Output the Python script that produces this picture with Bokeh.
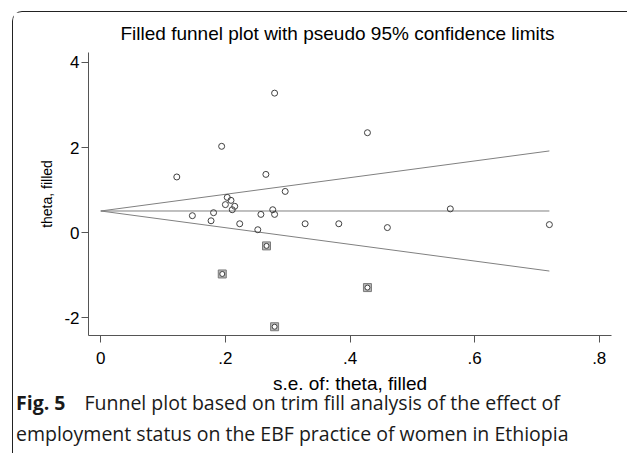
from bokeh.plotting import figure
from bokeh.models import FixedTicker, Div
from bokeh.layouts import column
from bokeh.embed import file_html
from bokeh.resources import INLINE

# ---- data ----
obs_se = [0.279, 0.194, 0.122, 0.265, 0.296, 0.203, 0.209, 0.200, 0.215, 0.211,
          0.276, 0.181, 0.147, 0.257, 0.279, 0.177, 0.223, 0.328, 0.382, 0.252,
          0.428, 0.561, 0.460, 0.720]
obs_theta = [3.28, 2.03, 1.31, 1.37, 0.97, 0.83, 0.76, 0.66, 0.62, 0.54,
             0.54, 0.47, 0.40, 0.43, 0.43, 0.28, 0.21, 0.21, 0.21, 0.07,
             2.35, 0.56, 0.12, 0.19]
fill_se = [0.266, 0.195, 0.279, 0.428]
fill_theta = [-0.31, -0.97, -2.21, -1.29]
pooled = 0.51
se_limits = [0.0, 0.72]
x_ticks = [0, 0.2, 0.4, 0.6, 0.8]
x_tick_labels = ["0", ".2", ".4", ".6", ".8"]
y_ticks = [-2, 0, 2, 4]
y_tick_labels = ["-2", "0", "2", "4"]

title_text = "Filled funnel plot with pseudo 95% confidence limits"
x_label = "s.e. of: theta, filled"
y_label = "theta, filled"
caption_bold = "Fig.&nbsp;5"
caption_line1 = "Funnel plot based on trim fill analysis of the effect of"
caption_line2 = "employment status on the EBF practice of women in Ethiopia"

W, H = 614, 390
x0, x1 = -0.0197, 0.8197
y0, y1 = -2.416, 4.235

p = figure(width=W, height=H, output_backend="svg", toolbar_location=None,
           x_range=(x0, x1), y_range=(y0, y1),
           min_border_left=75, min_border_right=16, min_border_top=40, min_border_bottom=67)
p.outline_line_color = None
p.xgrid.visible = False
p.ygrid.visible = False
p.background_fill_color = "white"
p.border_fill_color = "white"

p.title.text = title_text
p.title.text_font = "Liberation Sans"
p.title.text_font_size = "19px"
p.title.text_font_style = "normal"
p.title.text_color = "black"
p.title.align = "left"
p.title.offset = 32
p.title.standoff = 17

AX = "#555555"
for ax in (p.xaxis[0], p.yaxis[0]):
    ax.axis_line_color = AX
    ax.major_tick_line_color = AX
    ax.minor_tick_line_color = None
    ax.major_tick_in = 0
    ax.major_tick_out = 7
    ax.major_label_text_font = "Liberation Sans"
    ax.major_label_text_font_size = "17px"
    ax.major_label_text_color = "black"
    ax.axis_label_text_font = "Liberation Sans"
    ax.axis_label_text_font_style = "normal"
    ax.axis_label_text_color = "black"

p.xaxis[0].ticker = FixedTicker(ticks=x_ticks)
p.xaxis[0].major_label_overrides = {t: l for t, l in zip(x_ticks, x_tick_labels)}
p.xaxis[0].axis_label = x_label
p.xaxis[0].axis_label_text_font_size = "19px"
p.xaxis[0].major_label_standoff = 9
p.xaxis[0].axis_label_standoff = 6

p.yaxis[0].ticker = FixedTicker(ticks=y_ticks)
p.yaxis[0].major_label_overrides = {t: l for t, l in zip(y_ticks, y_tick_labels)}
p.yaxis[0].axis_label = y_label
p.yaxis[0].axis_label_text_font_size = "14px"
p.yaxis[0].major_label_standoff = 2
p.yaxis[0].axis_label_standoff = 6

# funnel: pooled estimate and pseudo 95% limits
LC = "#808080"
p.line(se_limits, [pooled, pooled], line_color=LC, line_width=1)
p.line(se_limits, [pooled, pooled + 1.96 * se_limits[1]], line_color=LC, line_width=1)
p.line(se_limits, [pooled, pooled - 1.96 * se_limits[1]], line_color=LC, line_width=1)

# observed and filled studies
p.scatter(obs_se, obs_theta, marker="circle", size=6, fill_color=None,
          line_color="#404040", line_width=1)
p.scatter(fill_se, fill_theta, marker="square", size=8, fill_color="#b8b8b8",
          line_color="#7a7a7a", line_width=1)
p.scatter(fill_se, fill_theta, marker="circle", size=5, fill_color="white",
          line_color="#404040", line_width=1)

caption = Div(
    text=('<div style="font-family:\'Open Sans\'; font-size:19.5px; line-height:31px; '
          'color:#1a1a1a; white-space:nowrap; margin-left:-2px;">'
          '<b>' + caption_bold + '</b><span style="display:inline-block;width:19px"></span>'
          + caption_line1 + '<br>' + caption_line2 + '</div>'),
    width=614, height=62, styles={"margin-top": "-15px"})

layout = column(p, caption, styles={
    "margin-left": "12px", "margin-top": "11px",
    "border-top": "1.5px solid #222", "border-left": "1.5px solid #222",
    "border-top-left-radius": "10px"})

open("out.html", "w").write(file_html(layout, INLINE))
